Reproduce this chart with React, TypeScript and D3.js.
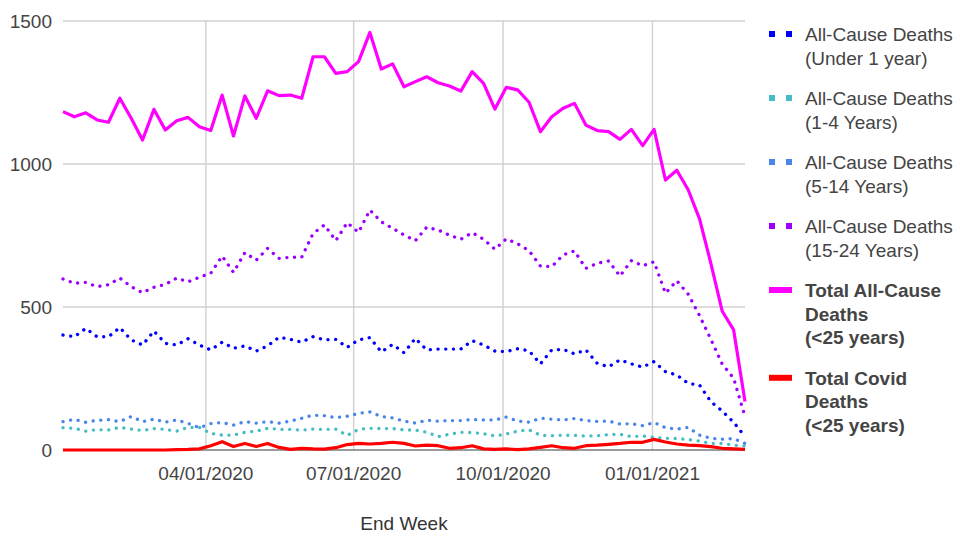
import React from "react";
import * as d3 from "d3";

const weeks: string[] = [
  "2020-01-04","2020-01-11","2020-01-18","2020-01-25","2020-02-01","2020-02-08","2020-02-15","2020-02-22","2020-02-29",
  "2020-03-07","2020-03-14","2020-03-21","2020-03-28","2020-04-04","2020-04-11","2020-04-18","2020-04-25",
  "2020-05-02","2020-05-09","2020-05-16","2020-05-23","2020-05-30","2020-06-06","2020-06-13","2020-06-20","2020-06-27",
  "2020-07-04","2020-07-11","2020-07-18","2020-07-25","2020-08-01","2020-08-08","2020-08-15","2020-08-22","2020-08-29",
  "2020-09-05","2020-09-12","2020-09-19","2020-09-26","2020-10-03","2020-10-10","2020-10-17","2020-10-24","2020-10-31",
  "2020-11-07","2020-11-14","2020-11-21","2020-11-28","2020-12-05","2020-12-12","2020-12-19","2020-12-26",
  "2021-01-02","2021-01-09","2021-01-16","2021-01-23","2021-01-30","2021-02-06","2021-02-13","2021-02-20","2021-02-27",
];

const under1: number[] = [
  402,396,425,396,396,428,385,367,416,373,
  367,389,367,350,377,356,364,346,364,394,
  387,377,396,385,387,359,385,393,343,369,
  340,390,350,353,353,353,382,367,346,344,
  354,347,301,350,352,336,350,303,291,315,
  301,290,309,274,262,233,227,169,136,97,
  47,
];

const age1to4: number[] = [
  78,76,66,71,70,79,73,68,75,72,
  66,79,79,58,52,52,62,66,76,72,
  72,69,73,72,73,51,72,76,75,75,
  70,70,62,47,55,62,61,57,49,56,
  66,70,52,50,52,51,49,50,54,55,
  47,49,44,41,40,37,31,23,23,17,
  14,
];

const age5to14: number[] = [
  99,107,97,104,106,99,117,99,108,97,
  105,93,78,92,96,87,99,94,99,94,
  101,111,122,120,113,118,128,133,117,112,
  101,94,104,101,103,103,107,105,105,115,
  101,97,111,108,105,110,103,100,101,91,
  92,85,96,78,73,79,52,41,38,40,
  23,
];

const age15to24: number[] = [
  598,583,586,571,578,601,571,550,569,579,
  601,588,604,618,678,621,690,664,705,670,
  674,674,757,787,732,795,761,839,798,775,
  752,732,779,769,751,737,760,737,702,738,
  721,697,643,641,682,696,635,653,661,608,
  662,644,658,548,592,545,470,387,300,251,
  117,
];

const totalAll: number[] = [
  1183,1165,1179,1154,1146,1230,1160,1084,1191,1119,
  1151,1163,1130,1117,1241,1098,1238,1160,1256,1239,
  1241,1230,1375,1375,1317,1323,1358,1460,1332,1350,
  1270,1288,1305,1284,1273,1255,1323,1282,1192,1268,
  1259,1216,1113,1165,1195,1212,1136,1117,1113,1086,
  1121,1064,1121,944,978,910,808,652,485,420,
  170,
];

const totalCovid: number[] = [
  0,0,0,0,0,0,0,0,0,0,
  1,2,4,15,29,12,23,12,23,9,
  2,6,4,3,8,19,23,21,23,27,
  23,14,17,15,6,8,15,4,2,4,
  1,4,9,15,8,6,15,17,20,23,
  27,27,37,28,21,17,15,12,6,4,
  2,
];

const yTicks: number[] = [0, 500, 1000, 1500];
const xTickDates: string[] = ["2020-04-01", "2020-07-01", "2020-10-01", "2021-01-01"];
const xTickLabels: string[] = ["04/01/2020", "07/01/2020", "10/01/2020", "01/01/2021"];

type Series = { name: string[]; values: number[]; color: string; dotted: boolean; bold: boolean };

const seriesList: Series[] = [
  { name: ["All-Cause Deaths", "(Under 1 year)"], values: under1, color: "#0000ff", dotted: true, bold: false },
  { name: ["All-Cause Deaths", "(1-4 Years)"], values: age1to4, color: "#46bdc6", dotted: true, bold: false },
  { name: ["All-Cause Deaths", "(5-14 Years)"], values: age5to14, color: "#4a86e8", dotted: true, bold: false },
  { name: ["All-Cause Deaths", "(15-24 Years)"], values: age15to24, color: "#9900ff", dotted: true, bold: false },
  { name: ["Total All-Cause", "Deaths", "(<25 years)"], values: totalAll, color: "#ff00ff", dotted: false, bold: true },
  { name: ["Total Covid", "Deaths", "(<25 years)"], values: totalCovid, color: "#ff0000", dotted: false, bold: true },
];

const W = 961;
const H = 533;
const FONT = "'Liberation Sans', Arial, sans-serif";

export default function App() {
  const parse = d3.timeParse("%Y-%m-%d");
  const dates = weeks.map((w) => parse(w) as Date);
  const x = d3.scaleTime().domain([dates[0], dates[dates.length - 1]]).range([63, 745]);
  const y = d3.scaleLinear().domain([0, 1500]).range([450, 21]);
  const line = d3
    .line<number>()
    .x((_, i) => x(dates[i]))
    .y((v) => y(v));

  const legendX = 769;
  const textX = 805;
  const lineH = 23.8;
  let cursor = 34;
  const legendItems = seriesList.map((s) => {
    const top = cursor;
    cursor += s.name.length * lineH + 16.4;
    return { s, top };
  });

  return (
    <svg width={W} height={H} style={{ position: "absolute", left: 0, top: 0, background: "#fff" }} fontFamily={FONT}>
      <rect x={0} y={0} width={W} height={H} fill="#fff" />
      {yTicks.filter((t) => t > 0).map((t) => (
        <line key={"gy" + t} x1={63} x2={745} y1={y(t)} y2={y(t)} stroke="#d0d0d0" strokeWidth={1.4} />
      ))}
      {xTickDates.map((d) => {
        const xv = x(parse(d) as Date);
        return <line key={"gx" + d} x1={xv} x2={xv} y1={21} y2={450} stroke="#d0d0d0" strokeWidth={1.4} />;
      })}
      <line x1={63} x2={745} y1={y(0)} y2={y(0)} stroke="#7a7a7a" strokeWidth={1.4} />
      {yTicks.map((t) => (
        <text key={"ty" + t} x={52} y={y(t)} dy="0.36em" textAnchor="end" fontSize={19} fill="#444">
          {t}
        </text>
      ))}
      {xTickDates.map((d, i) => (
        <text key={"tx" + d} x={x(parse(d) as Date)} y={480} textAnchor="middle" fontSize={19} fill="#444">
          {xTickLabels[i]}
        </text>
      ))}
      <text x={404} y={530} textAnchor="middle" fontSize={19} fill="#333">
        End Week
      </text>
      {seriesList.map((s, si) => (
        <path
          key={"s" + si}
          d={line(s.values) || ""}
          fill="none"
          stroke={s.color}
          strokeWidth={s.dotted ? 3.3 : 3.2}
          strokeDasharray={s.dotted ? "0.1 7.6" : undefined}
          strokeLinecap={s.dotted ? "round" : "butt"}
          strokeLinejoin="round"
        />
      ))}
      {legendItems.map(({ s, top }, li) => (
        <g key={"lg" + li}>
          {s.dotted ? (
            <>
              <rect x={legendX} y={top - 3} width={6} height={6} fill={s.color} />
              <rect x={legendX + 17} y={top - 3} width={6} height={6} fill={s.color} />
            </>
          ) : (
            <rect x={legendX} y={top - 3} width={23} height={6} fill={s.color} />
          )}
          {s.name.map((ln, k) => (
            <text
              key={k}
              x={textX}
              y={top + k * lineH}
              dy="0.36em"
              fontSize={19}
              fontWeight={s.bold ? "bold" : "normal"}
              fill="#444"
            >
              {ln}
            </text>
          ))}
        </g>
      ))}
    </svg>
  );
}
